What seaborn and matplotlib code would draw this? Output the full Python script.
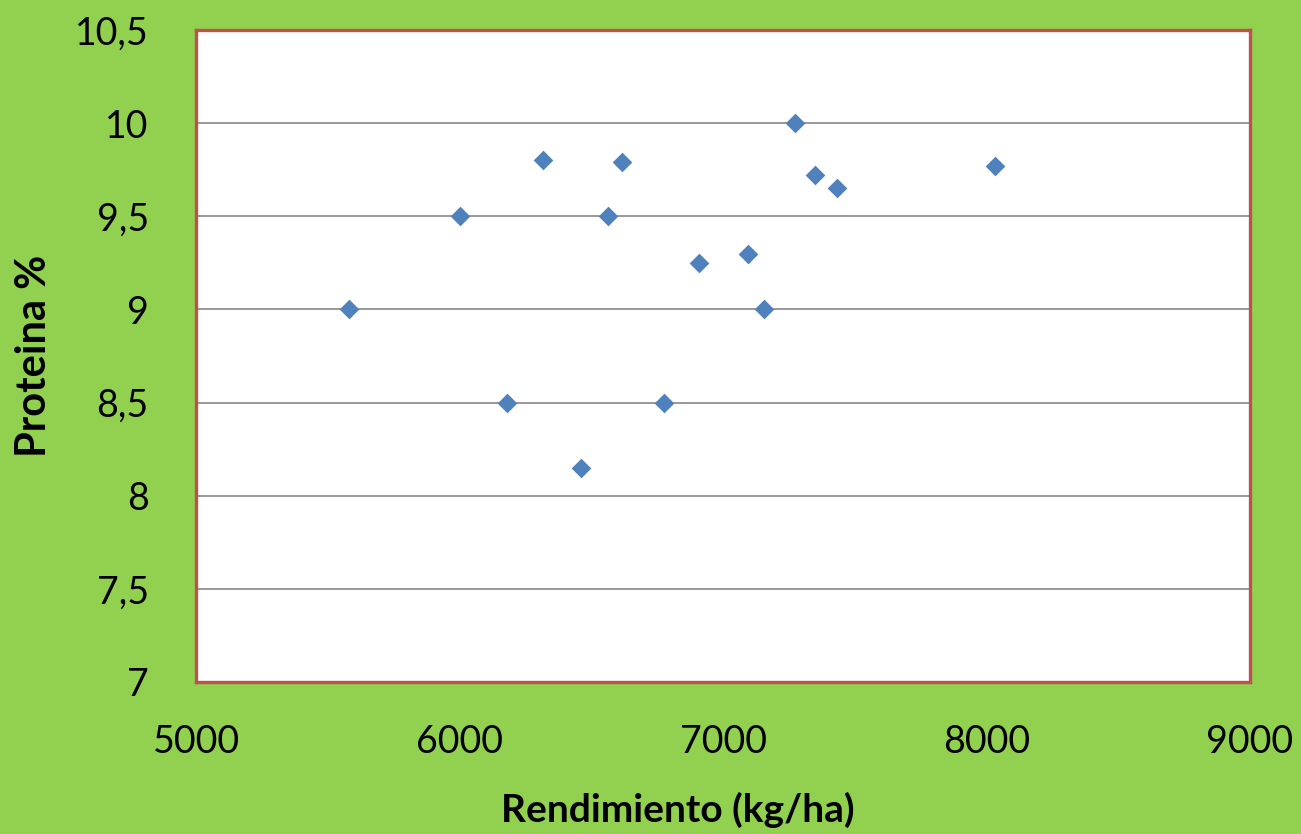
import matplotlib
matplotlib.use("Agg")
import matplotlib.pyplot as plt
from matplotlib.ticker import FixedLocator, FuncFormatter
import seaborn as sns
import pandas as pd

# Yield (kg/ha) and grain protein (%) per plot
rendimiento = [5579, 6001, 6181, 6318, 6460, 6563, 6615, 6776,
               6907, 7095, 7155, 7274, 7349, 7431, 8033]
proteina = [9.00, 9.50, 8.50, 9.80, 8.15, 9.50, 9.79, 8.50,
            9.25, 9.30, 9.00, 10.00, 9.72, 9.65, 9.77]

x_ticks = [5000, 6000, 7000, 8000, 9000]
y_ticks = [7, 7.5, 8, 8.5, 9, 9.5, 10, 10.5]

df = pd.DataFrame({"Rendimiento": rendimiento, "Proteina": proteina})

sns.set_theme(style="white")
plt.rcParams["font.family"] = ["Lato", "DejaVu Sans"]

bg = "#92D050"
fig = plt.figure(figsize=(13.01, 8.34), dpi=100, facecolor=bg)
ax = fig.add_axes([0.1507, 0.1823, 0.8101, 0.7817])
ax.set_facecolor("white")

sns.scatterplot(data=df, x="Rendimiento", y="Proteina", ax=ax,
                marker="D", s=100, color="#4F81BD", linewidth=0, zorder=3)

ax.set_xlim(5000, 9000)
ax.set_ylim(7, 10.5)
ax.xaxis.set_major_locator(FixedLocator(x_ticks))
ax.yaxis.set_major_locator(FixedLocator(y_ticks))
ax.yaxis.set_major_formatter(FuncFormatter(lambda v, _: f"{v:g}".replace(".", ",")))
ax.xaxis.set_major_formatter(FuncFormatter(lambda v, _: f"{int(v)}"))

ax.grid(axis="y", color="#868686", linewidth=1.2, zorder=1)
ax.grid(axis="x", visible=False)
ax.set_axisbelow(True)

for sp in ax.spines.values():
    sp.set_visible(True)
    sp.set_color("#C0504D")
    sp.set_linewidth(2.4)

ax.tick_params(axis="both", length=0, labelsize=27, colors="black",
               labelcolor="black")
ax.tick_params(axis="y", pad=34)
ax.tick_params(axis="x", pad=30)

ax.set_xlabel("Rendimiento (kg/ha)", fontsize=28, fontweight="bold",
              color="black", labelpad=23)
ax.xaxis.label.set_x(0.457)
ax.set_ylabel("Proteina %", fontsize=30, fontweight="bold",
              color="black", labelpad=16)

fig.savefig("out.png", dpi=100, facecolor=bg)
